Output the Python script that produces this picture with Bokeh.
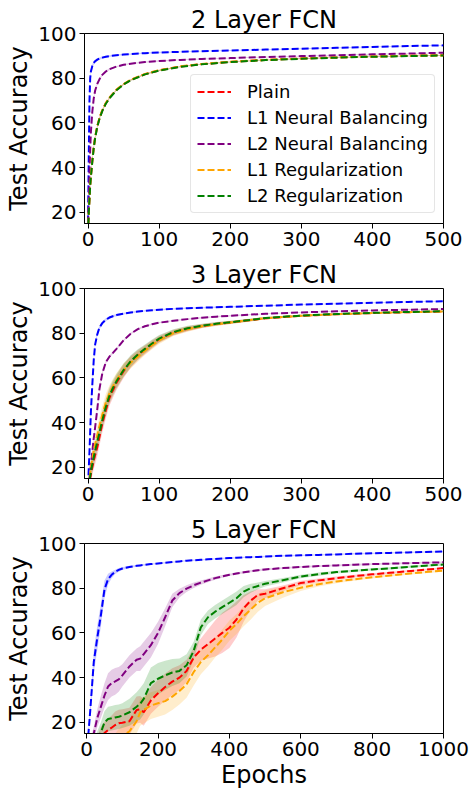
from bokeh.plotting import figure
from bokeh.layouts import column
from bokeh.models import Range1d, FixedTicker, Legend, LegendItem
from bokeh.embed import file_html
from bokeh.resources import INLINE

# ---------------- data ----------------
series_names = ["Plain", "L1 Neural Balancing", "L2 Neural Balancing",
                "L1 Regularization", "L2 Regularization"]
series_colors = ["red", "blue", "purple", "orange", "green"]

titles = ["2 Layer FCN", "3 Layer FCN", "5 Layer FCN"]

# --- 2 layer ---
fcn2_x = [0, 1, 2, 3, 4, 6, 8, 10, 13, 16, 20, 25, 30, 40, 50, 60, 80, 100,
          130, 160, 200, 250, 300, 350, 400, 450, 500]
fcn2_plain = [10, 20, 26, 32, 36, 43, 49, 53.5, 58.5, 62, 65.5, 68.8, 71.2, 74.8, 77.3,
              79.2, 81.8, 83.5, 85.2, 86.3, 87.3, 88.2, 88.8, 89.3, 89.7, 90.0, 90.3]
fcn2_l1nb = [15.5, 45, 70, 80, 83, 85.5, 86.8, 87.6, 88.3, 88.8, 89.2, 89.6, 89.9, 90.3,
             90.6, 90.8, 91.2, 91.5, 91.8, 92.1, 92.4, 92.8, 93.2, 93.6, 94.0, 94.4, 94.7]
fcn2_l2nb = [15, 25, 38, 48, 56, 65, 71, 74.5, 77.5, 79.5, 81.5, 83, 84, 85.2, 86, 86.5,
             87.2, 87.7, 88.2, 88.6, 89.0, 89.5, 89.9, 90.3, 90.7, 91.0, 91.4]
fcn2_l1reg = [10, 20.3, 26.3, 32.2, 36.3, 43.2, 49.2, 53.7, 58.7, 62.2, 65.7, 68.9, 71.3,
              74.9, 77.4, 79.3, 81.9, 83.6, 85.3, 86.4, 87.4, 88.2, 88.8, 89.3, 89.7, 90.0, 90.2]
fcn2_l2reg = [10, 19.8, 25.8, 31.8, 35.8, 42.8, 48.8, 53.3, 58.3, 61.8, 65.3, 68.6, 71.0,
              74.6, 77.2, 79.1, 81.7, 83.4, 85.1, 86.2, 87.2, 88.1, 88.7, 89.2, 89.6, 89.9, 90.2]
fcn2_std = [1.0, 1.0, 1.0, 1.0, 1.0, 0.8, 0.8, 0.7, 0.6, 0.5, 0.5, 0.4, 0.4, 0.3, 0.3, 0.3,
            0.3, 0.3, 0.2, 0.2, 0.2, 0.2, 0.2, 0.2, 0.2, 0.2, 0.2]

# --- 3 layer ---
fcn3_x = [0, 2, 4, 6, 8, 10, 13, 16, 20, 25, 30, 35, 40, 50, 60, 70, 80, 90, 100, 120,
          140, 160, 180, 200, 250, 300, 350, 400, 450, 500]
fcn3_plain = [10, 13, 17, 20, 23, 25.5, 29, 33.5, 39.5, 45.5, 51, 54.5, 57.8, 63, 67.2, 70.2,
              72.6, 75, 77.3, 80.3, 82.0, 83.2, 84.1, 84.8, 86.7, 87.8, 88.5, 89.0, 89.4, 89.7]
fcn3_l1nb = [12, 27, 45, 57, 68, 75, 79.5, 82.5, 84.5, 86, 87, 87.6, 88.1, 88.8, 89.3, 89.7,
             90.0, 90.3, 90.5, 90.9, 91.2, 91.4, 91.6, 91.8, 92.3, 92.8, 93.2, 93.6, 94.0, 94.3]
fcn3_l2nb = [10, 15, 21, 27, 33, 38, 46, 55, 62, 67, 69.5, 71.2, 73, 76.8, 79.8, 81.8, 83.1,
             84.0, 84.7, 85.6, 86.3, 86.9, 87.4, 87.8, 88.7, 89.3, 89.8, 90.2, 90.5, 90.8]
fcn3_l1reg = [11, 15, 20, 24, 27.5, 30.5, 34.5, 38.5, 43.5, 49, 53, 56.2, 59, 63.6, 66.8,
              69.5, 72.2, 74.6, 76.8, 80.0, 81.8, 83.1, 84.0, 84.8, 86.7, 87.8, 88.5, 89.0,
              89.4, 89.7]
fcn3_l2reg = [10, 14, 18, 21.5, 24.5, 27.5, 31.5, 35.5, 41, 47, 52, 55.5, 58.5, 63.5, 67.5,
              70.5, 73, 75.4, 77.6, 80.5, 82.2, 83.3, 84.2, 84.9, 86.8, 87.9, 88.6, 89.1,
              89.5, 89.8]
fcn3_std_nb = [1.5, 1.5, 1.5, 1.5, 1.2, 1.0, 1.0, 0.8, 0.8, 0.7, 0.6, 0.5, 0.5, 0.4, 0.4, 0.4,
               0.3, 0.3, 0.3, 0.3, 0.3, 0.3, 0.3, 0.3, 0.2, 0.2, 0.2, 0.2, 0.2, 0.2]
fcn3_std_reg = [2.0, 2.5, 3.0, 3.5, 3.8, 4.0, 4.0, 4.0, 4.0, 3.8, 3.6, 3.4, 3.2, 3.0, 2.6,
                2.3, 2.0, 1.8, 1.6, 1.3, 1.1, 0.9, 0.8, 0.7, 0.5, 0.4, 0.4, 0.3, 0.3, 0.3]

# --- 5 layer ---
fcn5_x = [0, 10, 20, 30, 40, 50, 60, 70, 80, 90, 100, 120, 140, 150, 160, 180, 200, 220,
          240, 260, 280, 300, 320, 340, 360, 380, 400, 420, 440, 460, 480, 500, 550, 600,
          650, 700, 750, 800, 850, 900, 950, 1000]
fcn5_plain = [3, 5, 8, 10, 13, 15.2, 16.5, 17.6, 18.8, 19.6, 19.8, 20.5, 25.5, 25.8, 24.5,
              29.8, 33, 35.8, 38.2, 40, 43, 49, 52.5, 55, 57.5, 60, 62.3, 66, 71, 74.5, 77,
              77.5, 80, 82.3, 83.5, 84.5, 85.4, 86.2, 86.9, 87.6, 88.3, 89.0]
fcn5_l1nb = [5, 25, 47, 58, 68, 79.5, 84, 86, 87.3, 88.2, 88.8, 89.5, 90, 90.2, 90.4, 90.8,
             91.1, 91.4, 91.7, 92, 92.3, 92.5, 92.7, 92.9, 93.1, 93.3, 93.5, 93.6, 93.8,
             93.9, 94.0, 94.2, 94.5, 94.7, 94.9, 95.1, 95.4, 95.6, 95.8, 96.0, 96.2, 96.4]
fcn5_l2nb = [5, 10, 15, 22, 27, 32, 36, 37.5, 38.3, 39.2, 41, 45, 48, 48.5, 50.5, 54.5, 60,
             67, 74.5, 77.8, 79.8, 81.3, 82.5, 83.5, 84.5, 85.3, 86.0, 86.6, 87.1, 87.6,
             88.0, 88.4, 89.0, 89.5, 89.9, 90.2, 90.5, 90.8, 91.0, 91.2, 91.4, 91.6]
fcn5_l1reg = [2, 3, 4, 5, 6, 7.5, 9, 10, 11, 12.5, 13.8, 16, 20.5, 24.5, 25.5, 27.5, 28.5,
              29.5, 31.5, 34, 37, 42.5, 47, 50, 53.5, 57, 61, 64, 67.5, 70.5, 73.5, 75.5,
              78.2, 80.2, 81.8, 83, 84, 84.9, 85.7, 86.5, 87.2, 87.9]
fcn5_l2reg = [5, 7, 9, 12, 15.5, 20, 21.5, 21.8, 22.2, 22.5, 23, 24.5, 27, 28.3, 30.5, 37.5,
              39.5, 41, 42.3, 43, 45.5, 52, 62.5, 67, 69.5, 71.5, 73.5, 75.5, 78.5, 80, 81,
              82, 83.6, 85.2, 86.3, 87.2, 87.8, 88.4, 88.9, 89.5, 90.1, 90.6]
fcn5_std_plain = [1, 2, 3, 4, 5, 5, 5, 5.5, 6, 6, 6, 6, 6, 6, 6, 6, 6, 6, 6, 5.5, 5, 4.5, 5,
                  6.5, 8, 9, 9, 8, 6, 4, 2.5, 2, 1.2, 1, 0.8, 0.7, 0.6, 0.5, 0.5, 0.4, 0.4, 0.4]
fcn5_std_l1nb = [1, 3, 5, 5.5, 5, 4, 2.5, 1.5, 1, 0.8, 0.6, 0.5, 0.4, 0.4, 0.4, 0.3, 0.3,
                 0.3, 0.3, 0.3, 0.3, 0.3, 0.3, 0.3, 0.3, 0.3, 0.3, 0.3, 0.3, 0.3, 0.3, 0.3,
                 0.3, 0.3, 0.3, 0.3, 0.3, 0.3, 0.3, 0.3, 0.3, 0.3]
fcn5_std_l2nb = [1, 2, 3, 4, 5, 5.5, 6, 6, 6, 5.5, 5, 5, 5, 5.5, 5.5, 5.5, 5, 4, 3, 2, 1.5,
                 1.2, 1, 0.8, 0.7, 0.6, 0.5, 0.5, 0.5, 0.5, 0.5, 0.5, 0.4, 0.4, 0.4, 0.4,
                 0.4, 0.4, 0.4, 0.4, 0.4, 0.4]
fcn5_std_l1reg = [1, 1, 1, 1.5, 2, 2.5, 3, 3.5, 4, 4.5, 5, 5.5, 5.5, 6, 6, 6, 6, 6, 6, 6, 6,
                  6, 5.5, 5, 4.5, 4.5, 4.5, 4.5, 4.5, 4.5, 4, 3.5, 2.5, 1.5, 1, 0.8, 0.7,
                  0.6, 0.5, 0.5, 0.5, 0.5]
fcn5_std_l2reg = [1, 2, 3, 4, 4.5, 5, 5.5, 5.5, 5.5, 5.5, 5.5, 6, 6.5, 7, 7, 7, 7, 6.5, 6,
                  5.5, 5, 4, 3.5, 3, 3, 3, 3, 3, 2.5, 2, 1.5, 1.2, 1, 0.8, 0.7, 0.6, 0.5,
                  0.5, 0.5, 0.5, 0.5, 0.5]

y_ticks = [20, 40, 60, 80, 100]
x_ticks_500 = [0, 100, 200, 300, 400, 500]
x_ticks_1000 = [0, 200, 400, 600, 800, 1000]

FONT = "DejaVu Sans"
DASH = "7 3"


def make_fig(title, x, means, stds, xmin, xmax, xticks, height, border_bottom,
             xlabel=None, legend=False):
    p = figure(width=469, height=height, output_backend="svg", toolbar_location=None,
               x_range=Range1d(xmin, xmax), y_range=Range1d(15, 100),
               min_border_left=84, min_border_right=26, min_border_top=33,
               min_border_bottom=border_bottom)
    p.title.text = title
    p.title.align = "center"
    p.title.text_font = FONT
    p.title.text_font_size = "24px"
    p.title.text_font_style = "normal"
    p.title.text_color = "black"
    p.title.standoff = 0
    p.title.offset = 0
    p.grid.visible = False
    p.outline_line_color = "black"
    p.outline_line_alpha = 1
    p.outline_line_width = 1
    p.background_fill_color = "white"
    p.border_fill_color = "white"

    for ax in (p.xaxis[0], p.yaxis[0]):
        ax.major_label_text_font = FONT
        ax.major_label_text_font_size = "20px"
        ax.major_label_text_color = "black"
        ax.axis_label_text_font = FONT
        ax.axis_label_text_font_size = "24px"
        ax.axis_label_text_font_style = "normal"
        ax.axis_label_text_color = "black"
        ax.axis_line_color = "black"
        ax.major_tick_line_color = "black"
        ax.major_tick_out = 5
        ax.major_tick_in = 0
        ax.minor_tick_line_color = None
        ax.major_label_standoff = 3
        ax.axis_label_standoff = 2
    p.yaxis[0].ticker = FixedTicker(ticks=y_ticks)
    p.xaxis[0].ticker = FixedTicker(ticks=xticks)
    p.yaxis[0].axis_label = "Test Accuracy"
    if xlabel:
        p.xaxis[0].axis_label = xlabel

    renderers = []
    for m, s, c in zip(means, stds, series_colors):
        lo = [a - b for a, b in zip(m, s)]
        hi = [a + b for a, b in zip(m, s)]
        p.varea(x=x, y1=lo, y2=hi, fill_color=c, fill_alpha=0.2)
    for m, c in zip(means, series_colors):
        r = p.line(x, m, line_color=c, line_width=2, line_dash=DASH)
        renderers.append(r)

    if legend:
        items = [LegendItem(label=n, renderers=[r]) for n, r in zip(series_names, renderers)]
        lg = Legend(items=items, location=(106, 10))
        lg.label_text_font = FONT
        lg.label_text_font_size = "18px"
        lg.label_text_color = "black"
        lg.glyph_width = 34
        lg.glyph_height = 21
        lg.label_height = 21
        lg.label_standoff = 16
        lg.spacing = 5
        lg.padding = 6
        lg.margin = 0
        lg.border_line_color = "#cccccc"
        lg.border_line_width = 1
        lg.background_fill_color = "white"
        lg.background_fill_alpha = 0.8
        if "border_radius" in Legend.properties():
            lg.border_radius = 4
        p.add_layout(lg)
    return p


p1 = make_fig(titles[0], fcn2_x,
              [fcn2_plain, fcn2_l1nb, fcn2_l2nb, fcn2_l1reg, fcn2_l2reg],
              [fcn2_std] * 5, -5, 500, x_ticks_500, 255, 32, legend=True)
p2 = make_fig(titles[1], fcn3_x,
              [fcn3_plain, fcn3_l1nb, fcn3_l2nb, fcn3_l1reg, fcn3_l2reg],
              [fcn3_std_reg, fcn3_std_nb, fcn3_std_nb, fcn3_std_reg, fcn3_std_reg],
              -5, 500, x_ticks_500, 255, 32)
p3 = make_fig(titles[2], fcn5_x,
              [fcn5_plain, fcn5_l1nb, fcn5_l2nb, fcn5_l1reg, fcn5_l2reg],
              [fcn5_std_plain, fcn5_std_l1nb, fcn5_std_l2nb, fcn5_std_l1reg, fcn5_std_l2reg],
              -6, 1000, x_ticks_1000, 281, 58, xlabel="Epochs")

layout = column(p1, p2, p3, spacing=0)
open("out.html", "w").write(file_html(layout, INLINE))
